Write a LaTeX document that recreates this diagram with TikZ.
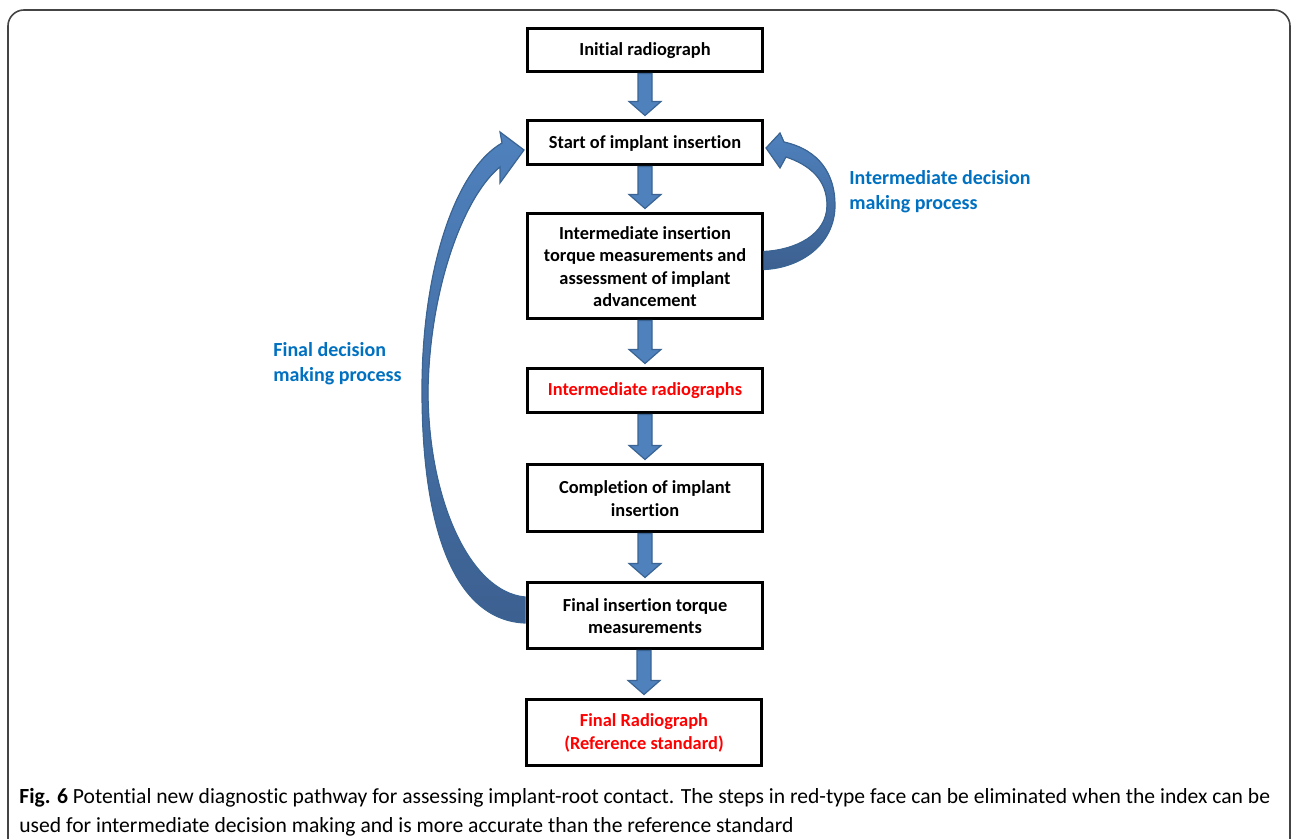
\documentclass[tikz,border=0pt]{standalone}
\usepackage{fontspec}
\setmainfont[Ligatures={NoCommon,NoRequired,NoContextual}]{Carlito}
\newfontfamily\capfont[Ligatures={NoCommon,NoRequired,NoContextual}]{Carlito}
\usetikzlibrary{calc}
\definecolor{arrowfill}{HTML}{4F81BD}
\definecolor{arrowline}{HTML}{3A6494}
\definecolor{arrowdark}{HTML}{3C6090}
\definecolor{labelblue}{HTML}{0070C0}
\definecolor{stepred}{HTML}{FF0000}
\definecolor{framegray}{HTML}{444444}
\tikzset{
  stepbox/.style={draw=black, line width=1.5pt, fill=white, minimum width=117.5pt,
    align=center, inner sep=2pt, font=\bfseries\fontsize{9.2}{11.25}\selectfont},
  redtext/.style={text=stepred},
  blockarrow/.style={fill=arrowfill, draw=arrowline, line width=0.6pt, line join=miter},
  curvearrow/.style={top color=arrowfill, bottom color=arrowdark, draw=arrowline, line width=0.6pt},
  bluelabel/.style={text=labelblue, align=left, anchor=west, inner sep=0pt,
    font=\bfseries\fontsize{10}{12.5}\selectfont},
}
\newcommand{\blockdown}[2]{%
  \filldraw[blockarrow] ($(#1.south -| #2.north)+(-7,0)$) -- ($(#1.south -| #2.north)+(7,0)$)
    -- ($(#2.north)+(7,-18)$) -- ($(#2.north)+(16,-18)$) -- ($(#2.north)+(0,-4)$)
    -- ($(#2.north)+(-16,-18)$) -- ($(#2.north)+(-7,-18)$) -- cycle;}
\begin{document}
\begin{tikzpicture}[x=0.5pt,y=-0.5pt]
\useasboundingbox (0,0) rectangle (1292,839);
\begin{scope}
\clip (0,0) rectangle (1292,839);
\draw[framegray, line width=0.8pt, rounded corners=8pt] (8,10) rectangle (1290,870);
\end{scope}

\node[stepbox, minimum height=21.5pt] (s1) at (645,50.5) {Initial radiograph};
\node[stepbox, minimum height=22pt] (s2) at (645,143) {Start of implant insertion};
\node[stepbox, minimum height=52.5pt] (s3) at (645,266.5) {Intermediate insertion\\torque measurements and\\assessment of implant\\advancement};
\node[stepbox, redtext, minimum height=22pt] (s4) at (645,391) {Intermediate radiographs};
\node[stepbox, minimum height=33.5pt] (s5) at (645,498.5) {Completion of implant\\insertion};
\node[stepbox, minimum height=33pt] (s6) at (645,616) {Final insertion torque\\measurements};
\node[stepbox, redtext, minimum height=33pt] (s7) at (644,733) {Final Radiograph\\(Reference standard)};

\blockdown{s1}{s2}
\blockdown{s2}{s3}
\blockdown{s3}{s4}
\blockdown{s4}{s5}
\blockdown{s5}{s6}
\blockdown{s6}{s7}

% intermediate decision loop (s3 -> s2)
\coordinate (rtip) at ($(s2.east)+(2,5)$);
\coordinate (rtail) at ($(s3.east)+(0,-7)$);
\filldraw[curvearrow] (rtip) -- (780,133) -- (784,142)
  .. controls (820,150) and (835,175) .. (835,205)
  .. controls (835,245) and (800,268) .. ($(rtail)+(0,10)$)
  -- ($(rtail)+(0,-8)$)
  .. controls (795,250) and (827,235) .. (827,205)
  .. controls (827,180) and (810,165) .. (786,157)
  -- (780,168) -- cycle;

% final decision loop (s6 -> s2)
\coordinate (ltip) at ($(s2.west)+(-2,7)$);
\coordinate (ltail) at ($(s6.west)+(-1,-6)$);
\filldraw[curvearrow] (ltip) -- (500,132) -- (502,143)
  .. controls (455,170) and (422,270) .. (422,390)
  .. controls (422,530) and (455,620) .. ($(ltail)+(0,13)$)
  -- ($(ltail)+(0,-13)$)
  .. controls (470,592) and (428,500) .. (428,390)
  .. controls (430,285) and (465,195) .. (500,167)
  -- (500,183) -- cycle;

\node[bluelabel] (lblr) at (849,192) {Intermediate decision\\making process};
\node[bluelabel] (lbll) at (273,364) {Final decision\\making process};

\node[anchor=north west, align=left, inner sep=0pt, font=\capfont\fontsize{10.8}{14.5}\selectfont] (cap) at (19,788)
  {\textbf{Fig. 6} Potential new diagnostic pathway for assessing implant-root contact. The steps in red-type face can be eliminated when the index can be\\
   used for intermediate decision making and is more accurate than the reference standard};
\end{tikzpicture}
\end{document}
